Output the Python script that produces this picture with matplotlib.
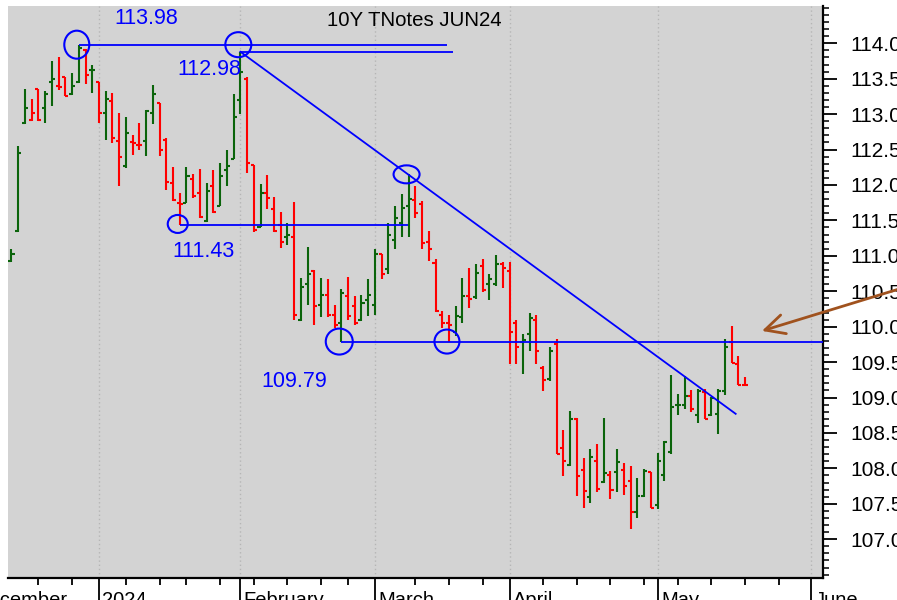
import numpy as np
import matplotlib
matplotlib.use('Agg')
import matplotlib.pyplot as plt
from matplotlib.patches import Ellipse
from matplotlib.ticker import MultipleLocator, FixedLocator, FormatStrFormatter

plt.rcParams['font.family'] = ['Liberation Sans', 'DejaVu Sans']

# daily bars, 12 Dec 2023 .. 20 May 2024 (trading days)
opens = [110.92, 111.35, 112.88, 112.91, 113.35, 113.08, 113.45, 113.40, 113.53, 113.28,
         113.45, 113.91, 113.62, 113.45, 113.01, 113.19, 112.62, 112.27, 112.60, 112.57,
         112.62, 113.01, 113.16, 112.64, 112.03, 111.74, 111.75, 112.08, 111.88, 111.49,
         111.98, 111.71, 112.21, 112.37, 113.20, 113.50, 112.28, 111.40, 111.88, 111.66,
         111.44, 111.27, 111.26, 110.10, 110.60, 110.78, 110.31, 110.45, 110.17, 110.05,
         110.43, 110.29, 110.10, 110.38, 110.31, 111.02, 110.81, 111.23, 111.47, 111.70,
         111.79, 111.73, 111.19, 110.90, 110.17, 110.05, 109.92, 110.13, 110.43, 110.42,
         110.85, 110.60, 110.60, 110.89, 110.78, 110.05, 109.78, 109.90, 110.09, 109.42,
         109.26, 109.76, 108.29, 108.05, 108.69, 107.98, 107.60, 108.11, 107.81, 107.91,
         107.95, 107.98, 107.82, 107.39, 107.61, 107.95, 107.49, 107.90, 108.23, 108.89,
         108.89, 109.02, 108.76, 109.08, 108.75, 108.77, 109.09, 109.78, 109.48, 109.18]
highs = [111.09, 112.55, 113.36, 113.21, 113.36, 113.33, 113.75, 113.80, 113.53, 113.58,
         113.98, 113.92, 113.70, 113.46, 113.33, 113.30, 113.01, 112.96, 112.71, 112.87,
         113.06, 113.41, 113.16, 112.67, 112.26, 111.89, 112.26, 112.15, 112.23, 112.03,
         112.21, 112.31, 112.50, 113.28, 113.88, 113.52, 112.28, 112.01, 112.14, 111.83,
         111.62, 111.46, 111.76, 110.69, 111.13, 110.80, 110.69, 110.67, 110.30, 110.53,
         110.70, 110.43, 110.45, 110.67, 111.09, 111.02, 111.47, 111.71, 111.87, 112.15,
         111.98, 111.77, 111.35, 110.96, 110.22, 110.17, 110.29, 110.69, 110.83, 110.89,
         110.95, 110.74, 111.01, 110.91, 110.91, 110.10, 109.89, 110.20, 110.17, 109.44,
         109.72, 109.82, 108.54, 108.81, 108.71, 108.15, 108.27, 108.35, 108.71, 107.97,
         108.27, 108.07, 108.04, 107.87, 107.99, 107.95, 108.22, 108.38, 109.32, 109.05,
         109.31, 109.10, 109.12, 109.12, 109.01, 109.12, 109.82, 110.01, 109.59, 109.29]
lows = [110.91, 111.33, 112.86, 112.90, 112.90, 112.88, 113.12, 113.34, 113.25, 113.27,
        113.44, 113.42, 113.30, 112.88, 112.63, 112.59, 111.98, 112.24, 112.43, 112.49,
        112.41, 112.86, 112.41, 111.93, 111.77, 111.43, 111.75, 111.82, 111.54, 111.48,
        111.61, 111.70, 111.99, 112.36, 113.00, 112.17, 111.33, 111.40, 111.66, 111.33,
        111.11, 111.15, 110.09, 110.08, 110.31, 110.02, 110.14, 110.13, 109.98, 109.79,
        110.10, 110.03, 110.08, 110.15, 110.17, 110.68, 110.75, 111.09, 111.27, 111.26,
        111.54, 111.09, 110.93, 110.21, 109.98, 109.79, 109.87, 110.05, 110.27, 110.39,
        110.49, 110.38, 110.57, 110.55, 109.48, 109.48, 109.33, 109.65, 109.48, 109.09,
        109.23, 108.21, 107.89, 108.04, 107.61, 107.44, 107.51, 107.66, 107.79, 107.57,
        107.66, 107.63, 107.15, 107.30, 107.60, 107.44, 107.42, 107.82, 108.21, 108.75,
        108.84, 108.79, 108.64, 108.69, 108.74, 108.49, 109.03, 109.49, 109.18, 109.16]
closes = [111.02, 112.45, 113.08, 113.01, 112.92, 113.28, 113.49, 113.38, 113.26, 113.40,
          113.94, 113.55, 113.62, 113.01, 113.22, 112.66, 112.40, 112.74, 112.59, 112.56,
          113.04, 113.28, 112.49, 112.04, 111.79, 111.73, 112.13, 111.84, 111.55, 111.91,
          111.62, 112.12, 112.27, 112.96, 113.59, 112.31, 111.36, 111.88, 111.81, 111.35,
          111.19, 111.30, 110.17, 110.56, 110.74, 110.29, 110.45, 110.17, 110.03, 110.48,
          110.15, 110.05, 110.34, 110.45, 111.02, 110.75, 111.29, 111.54, 111.67, 111.80,
          111.61, 111.18, 111.09, 110.22, 110.05, 110.03, 110.15, 110.44, 110.39, 110.76,
          110.52, 110.67, 110.88, 110.83, 109.92, 109.72, 109.81, 110.12, 109.65, 109.25,
          109.65, 108.21, 108.11, 108.70, 107.89, 107.68, 108.16, 107.71, 107.93, 107.70,
          108.09, 107.75, 107.39, 107.61, 107.97, 107.44, 108.11, 108.37, 108.87, 108.90,
          109.02, 108.84, 109.09, 108.70, 109.00, 109.09, 109.72, 109.49, 109.18, 109.17]

month_names = ['December', '2024', 'February', 'March', 'April', 'May', 'June']
month_starts = [-6, 13, 34, 54, 74, 96, 118.8]
week_starts = [4, 9, 17, 22, 26, 31, 36, 41, 46, 50, 60, 65, 70,
               79, 84, 89, 94, 99, 104, 109, 114]
price_labels = [107.0, 107.5, 108.0, 108.5, 109.0, 109.5, 110.0,
                110.5, 111.0, 111.5, 112.0, 112.5, 113.0, 113.5, 114.0]

# support / resistance drawing
level_values = [113.98, 113.88, 111.43, 109.79]
level_from = [10, 34, 25, 49]
level_to = [64.7, 65.6, 58.85, 120.5]
level_labels = ['113.98', '112.98', '111.43', '109.79']
label_offsets = [(36, 26), (-63, -18), (-7, -26), (-80, -40)]   # pixels from line start
trend_x = [34, 107.6]
trend_y = [113.88, 108.77]
circle_bar = [10, 34, 25, 59, 49, 65]
circle_price = [113.98, 113.98, 111.45, 112.15, 109.79, 109.79]
circle_size = [(25, 28), (26, 25), (20, 18), (26, 18), (27, 26), (25, 24)]

GREEN = '#0b640b'
RED = '#ff0000'
BLUE = '#0000ff'

W, H = 897, 600
fig = plt.figure(figsize=(W / 100, H / 100), dpi=100)
left, right, top, bottom = 8, 822.5, 6, 577.5
ax = fig.add_axes([left / W, 1 - bottom / H, (right - left) / W, (bottom - top) / H])
ax.set_facecolor('#d3d3d3')
xmin, xmax = -0.52, 120.5
ymin, ymax = 106.46, 114.526
px_x = (right - left) / (xmax - xmin)
px_y = (bottom - top) / (ymax - ymin)

# month grid
for m in month_starts[1:]:
    ax.axvline(m, color='#b5b5b5', lw=1, ls=(0, (1, 2)), zorder=1)

# OHLC bars, coloured by close vs previous close
x = np.arange(len(closes))
cl = np.array(closes)
colors = [GREEN if i == 0 or cl[i] >= cl[i - 1] else RED for i in range(len(cl))]
ax.vlines(x, lows, highs, colors=colors, lw=1.5, zorder=2)
ax.hlines(opens, x - 0.45, x, colors=colors, lw=1.5, zorder=2)
ax.hlines(closes, x, x + 0.45, colors=colors, lw=1.5, zorder=2)

for lv, a, b, lab, off in zip(level_values, level_from, level_to, level_labels, label_offsets):
    ax.plot([a, b], [lv, lv], color=BLUE, lw=1.3, zorder=3, solid_capstyle='butt')
    ax.annotate(lab, xy=(a, lv), xytext=off, textcoords='offset pixels',
                color=BLUE, fontsize=15.5, ha='left', va='center', annotation_clip=False)
ax.plot(trend_x, trend_y, color=BLUE, lw=1.3, zorder=3)

for b, p, (w, h) in zip(circle_bar, circle_price, circle_size):
    ax.add_patch(Ellipse((b - 0.3, p), w / px_x, h / px_y, fill=False,
                         edgecolor=BLUE, lw=1.5, zorder=3))

# brown arrow pointing at the breakout
ax.annotate('', xy=(111.5, 109.94), xytext=(138, 110.71),
            arrowprops=dict(arrowstyle='->,head_length=0.7,head_width=0.35',
                            color='#a0521e', lw=2, mutation_scale=20,
                            shrinkA=0, shrinkB=0),
            annotation_clip=False, zorder=6)

# axes styling
for s in ['left', 'top']:
    ax.spines[s].set_visible(False)
for s in ['right', 'bottom']:
    ax.spines[s].set_linewidth(1.6)
ax.yaxis.tick_right()
ax.yaxis.set_major_locator(FixedLocator(price_labels))
ax.yaxis.set_minor_locator(MultipleLocator(0.1))
ax.yaxis.set_major_formatter(FormatStrFormatter('%.1f'))
ax.tick_params(axis='y', which='major', length=10, width=1.3, pad=10, labelsize=15)
ax.tick_params(axis='y', which='minor', length=4.3, width=1.1)

ax.set_xticks(month_starts[1:])
ax.set_xticklabels([''] * (len(month_starts) - 1))
ax.set_xticks(week_starts, minor=True)
ax.tick_params(axis='x', which='major', length=17, width=1.3)
ax.tick_params(axis='x', which='minor', length=5, width=1.3)
ax.set_xlim(xmin, xmax)
ax.set_ylim(ymin, ymax)

for name, m in zip(month_names, month_starts):
    ax.annotate(name, xy=(m, 0), xycoords=('data', 'axes fraction'),
                xytext=(3.5, -14), textcoords='offset pixels',
                ha='left', va='top', fontsize=14.5, annotation_clip=False)

fig.text(327 / W, 1 - 20 / H, '10Y TNotes JUN24', fontsize=14.7,
         ha='left', va='center', color='black')

fig.savefig('out.png', dpi=100)
